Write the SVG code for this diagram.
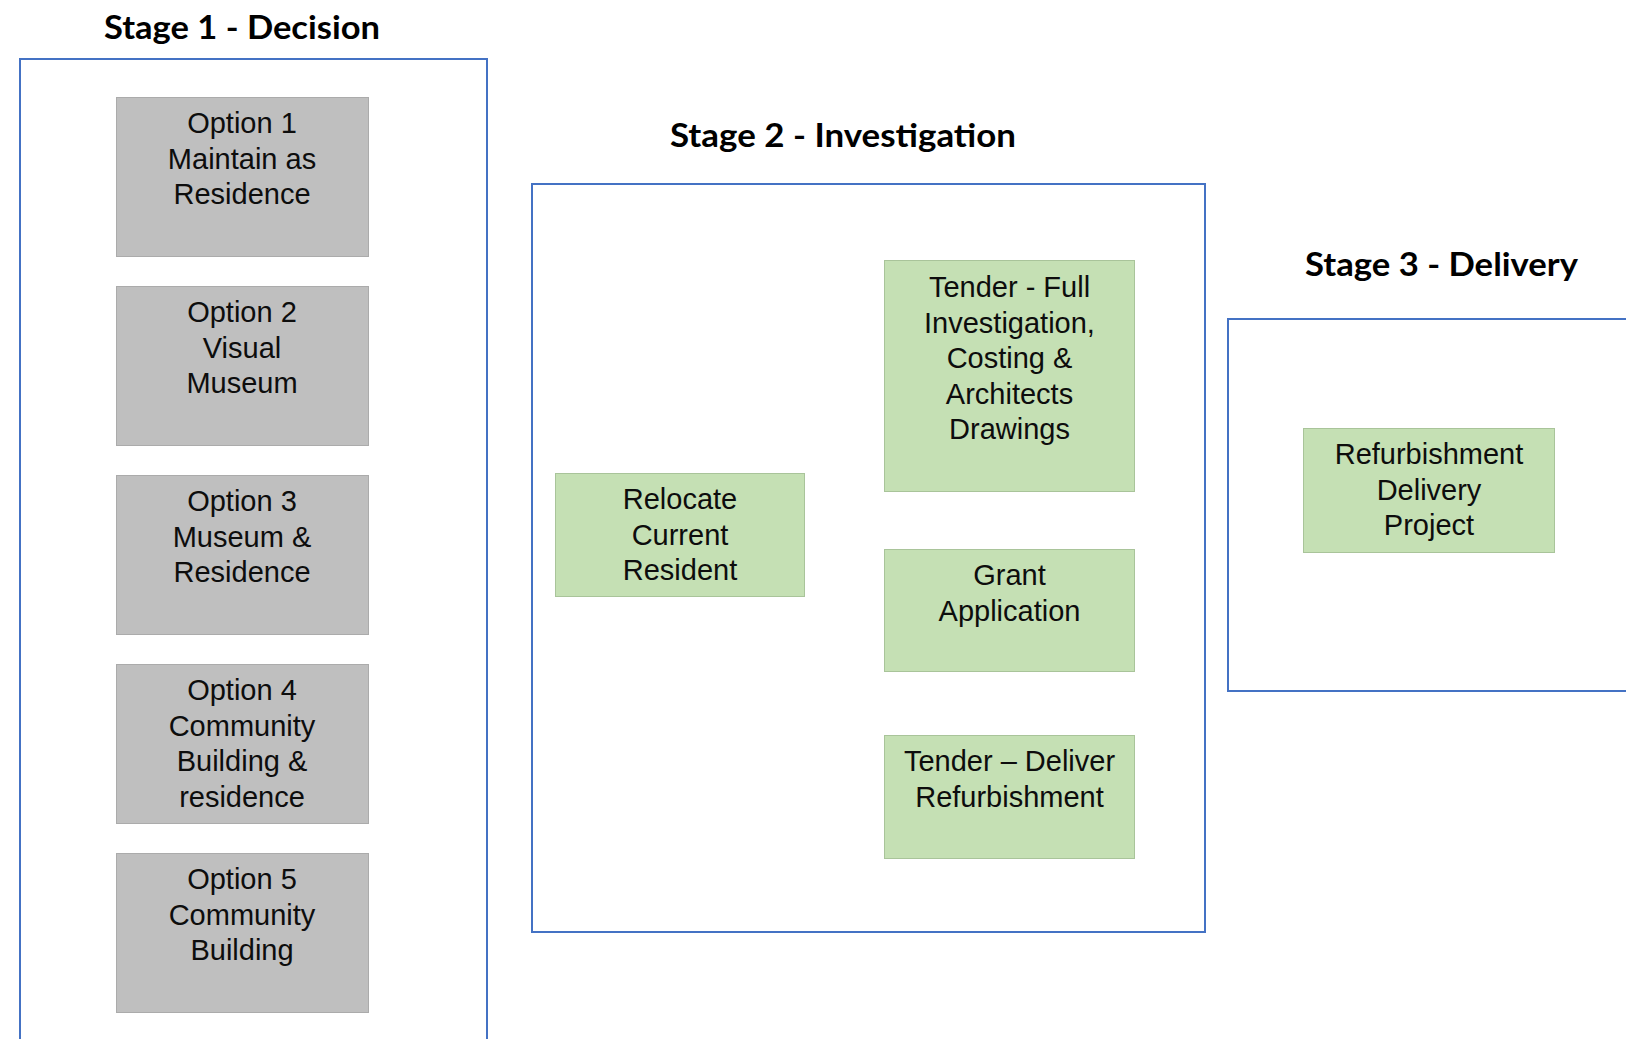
<svg xmlns="http://www.w3.org/2000/svg" width="1626" height="1039" viewBox="0 0 1626 1039">
<style>
.stage{fill:#FFFFFF;stroke:#4472C4;stroke-width:2}
.title{font-family:Lato,"Open Sans","Liberation Sans",sans-serif;font-weight:bold;font-size:33px;fill:#000000}
.gray{fill:#BFBFBF;stroke:#ABABAB;stroke-width:1}
.green{fill:#C5E0B4;stroke:#A9C49A;stroke-width:1}
.lbl{font-family:"Liberation Sans",Arial,sans-serif;font-size:29px;fill:#0D0D0D;text-anchor:middle}
</style>
<rect width="1626" height="1039" fill="#FFFFFF"/>
<g id="stage1">
<rect class="stage" x="20" y="59" width="467" height="1000"/>
<text class="title" x="104" y="39" textLength="276" lengthAdjust="spacingAndGlyphs">Stage 1 - Decision</text>
</g>
<g id="stage2">
<rect class="stage" x="532" y="184" width="673" height="748"/>
<text class="title" x="670" y="147" textLength="346" lengthAdjust="spacingAndGlyphs">Stage 2 - Investigation</text>
</g>
<g id="stage3">
<rect class="stage" x="1228" y="319" width="420" height="372"/>
<text class="title" x="1305" y="276" textLength="273" lengthAdjust="spacingAndGlyphs">Stage 3 - Delivery</text>
</g>
<g id="option1">
<rect class="gray" x="116.5" y="97.5" width="252" height="159"/>
<text class="lbl" x="242" y="133">Option 1</text>
<text class="lbl" x="242" y="168.5">Maintain as</text>
<text class="lbl" x="242" y="204">Residence</text>
</g>
<g id="option2">
<rect class="gray" x="116.5" y="286.5" width="252" height="159"/>
<text class="lbl" x="242" y="322">Option 2</text>
<text class="lbl" x="242" y="357.5">Visual</text>
<text class="lbl" x="242" y="393">Museum</text>
</g>
<g id="option3">
<rect class="gray" x="116.5" y="475.5" width="252" height="159"/>
<text class="lbl" x="242" y="511">Option 3</text>
<text class="lbl" x="242" y="546.5">Museum &amp;</text>
<text class="lbl" x="242" y="582">Residence</text>
</g>
<g id="option4">
<rect class="gray" x="116.5" y="664.5" width="252" height="159"/>
<text class="lbl" x="242" y="700">Option 4</text>
<text class="lbl" x="242" y="735.5">Community</text>
<text class="lbl" x="242" y="771">Building &amp;</text>
<text class="lbl" x="242" y="806.5">residence</text>
</g>
<g id="option5">
<rect class="gray" x="116.5" y="853.5" width="252" height="159"/>
<text class="lbl" x="242" y="889">Option 5</text>
<text class="lbl" x="242" y="924.5">Community</text>
<text class="lbl" x="242" y="960">Building</text>
</g>
<g id="relocate">
<rect class="green" x="555.5" y="473.5" width="249" height="123"/>
<text class="lbl" x="680" y="509">Relocate</text>
<text class="lbl" x="680" y="544.5">Current</text>
<text class="lbl" x="680" y="580">Resident</text>
</g>
<g id="tender-full">
<rect class="green" x="884.5" y="260.5" width="250" height="231"/>
<text class="lbl" x="1009.5" y="297">Tender - Full</text>
<text class="lbl" x="1009.5" y="332.5">Investigation,</text>
<text class="lbl" x="1009.5" y="368">Costing &amp;</text>
<text class="lbl" x="1009.5" y="403.5">Architects</text>
<text class="lbl" x="1009.5" y="439">Drawings</text>
</g>
<g id="grant">
<rect class="green" x="884.5" y="549.5" width="250" height="122"/>
<text class="lbl" x="1009.5" y="585">Grant</text>
<text class="lbl" x="1009.5" y="620.5">Application</text>
</g>
<g id="tender-deliver">
<rect class="green" x="884.5" y="735.5" width="250" height="123"/>
<text class="lbl" x="1009.5" y="771">Tender – Deliver</text>
<text class="lbl" x="1009.5" y="806.5">Refurbishment</text>
</g>
<g id="refurbishment">
<rect class="green" x="1303.5" y="428.5" width="251" height="124"/>
<text class="lbl" x="1429" y="464">Refurbishment</text>
<text class="lbl" x="1429" y="499.5">Delivery</text>
<text class="lbl" x="1429" y="535">Project</text>
</g>
<g id="connectors"/>
</svg>
